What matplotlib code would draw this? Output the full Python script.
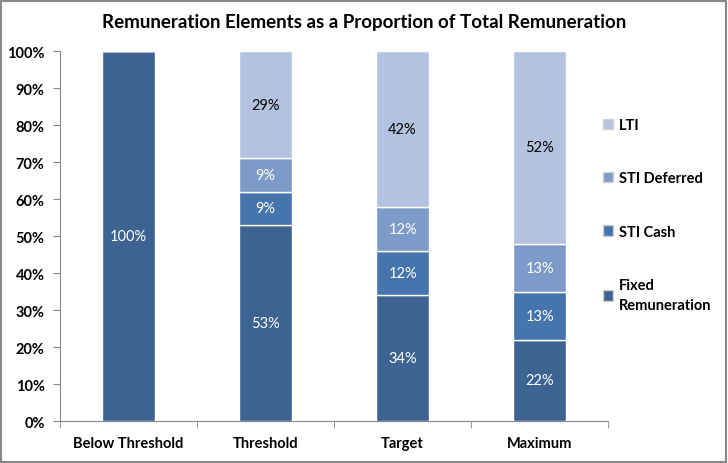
import numpy as np
import matplotlib
matplotlib.use('Agg')
import matplotlib.pyplot as plt
from matplotlib.patches import Rectangle, Patch

plt.rcParams['font.family'] = ['Lato', 'DejaVu Sans']

categories = ['Below Threshold', 'Threshold', 'Target', 'Maximum']
fixed = [100, 53, 34, 22]
sti_cash = [0, 9, 12, 13]
sti_deferred = [0, 9, 12, 13]
lti = [0, 29, 42, 52]

series = [('Fixed\nRemuneration', fixed, '#3D6393', 'white'),
          ('STI Cash', sti_cash, '#4674AC', 'white'),
          ('STI Deferred', sti_deferred, '#7D9BC9', 'white'),
          ('LTI', lti, '#B3C3DF', 'black')]

fig = plt.figure(figsize=(7.28, 4.64), dpi=100)
ax = fig.add_axes([0.0824, 0.0905, 0.753, 0.797])

x = np.arange(len(categories))
bottom = np.zeros(len(categories))
for name, vals, col, tcol in series:
    vals = np.array(vals, dtype=float)
    bars = ax.bar(x, vals, width=0.39, bottom=bottom, color=col,
                  edgecolor='white', linewidth=1.0, label=name, zorder=3)
    labels = [f'{v:.0f}%' if v > 0 else '' for v in vals]
    ax.bar_label(bars, labels=labels, label_type='center', color=tcol,
                 fontsize=10.5)
    bottom += vals

ax.set_xlim(-0.5, len(categories) - 0.5)
ax.set_ylim(0, 100)
ax.set_yticks(np.arange(0, 101, 10))
ax.set_yticklabels([f'{v}%' for v in range(0, 101, 10)], fontweight='bold', fontsize=10.5)
ax.set_xticks(x)
ax.set_xticklabels(categories, fontweight='bold', fontsize=10.5)
ax.set_xticks(np.arange(-0.5, len(categories), 1), minor=True)
ax.tick_params(axis='x', which='major', length=0, pad=11)
ax.tick_params(axis='x', which='minor', length=5, color='#868686')
ax.tick_params(axis='y', length=5, color='#868686', pad=6)
for s in ['top', 'right']:
    ax.spines[s].set_visible(False)
for s in ['left', 'bottom']:
    ax.spines[s].set_color('#868686')

handles = [Patch(facecolor=c, edgecolor='#d0d0d0', label=n) for n, v, c, t in series][::-1]
leg = fig.legend(handles=handles, loc='upper left', bbox_to_anchor=(0.81, 0.772),
                 frameon=False, handlelength=0.7, handleheight=0.7, handletextpad=0.4,
                 labelspacing=2.7, prop={'weight': 'bold', 'size': 10.5})
for t in leg.get_texts():
    t.set_linespacing(1.55)

fig.text(0.5, 0.952, 'Remuneration Elements as a Proportion of Total Remuneration',
         ha='center', va='center', fontsize=13.5, fontweight='bold')

fig.patches.append(Rectangle((0.002, 0.003), 0.995, 0.993, transform=fig.transFigure,
                             fill=False, edgecolor='#888888', linewidth=1.5))

fig.savefig('out.png', dpi=100)
